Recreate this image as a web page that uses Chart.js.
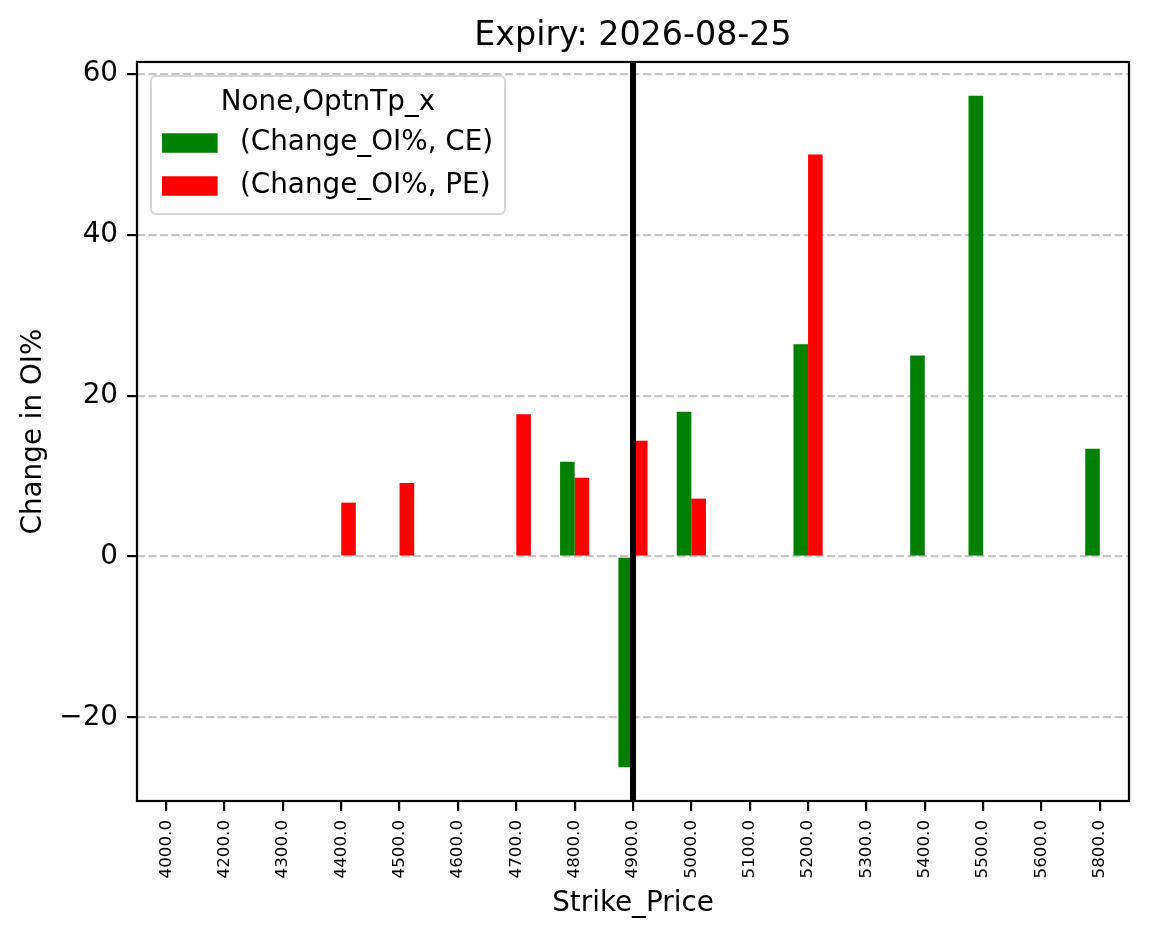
<!DOCTYPE html>
<html>
<head>
<meta charset="utf-8">
<script src="https://cdn.jsdelivr.net/npm/chart.js@4.4.1/dist/chart.umd.min.js"></script>
<style>
  body { margin: 0; background: #fff; }
  #wrap { width: 1149px; height: 939px; }
</style>
</head>
<body>
<div id="wrap"><canvas id="grafico" width="1149" height="939"></canvas></div>
<script>
// Dados
const strikes = ['4000.0', '4200.0', '4300.0', '4400.0', '4500.0', '4600.0', '4700.0', '4800.0', '4900.0',
                 '5000.0', '5100.0', '5200.0', '5300.0', '5400.0', '5500.0', '5600.0', '5800.0'];
const ceChange = [null, null, null, null, null, null, null, 11.8, -26.2, 18.0, null, 26.4, null, 25.0, 57.3, null, 13.4];
const peChange = [null, null, null, 6.7, 9.15, null, 17.7, 9.8, 14.4, 7.2, null, 50.0, null, null, null, null, null];
const yTicks = [-20, 0, 20, 40, 60];
const spotStrike = '4900.0';
const legendTitle = 'None,OptnTp_x';

const FONT = "'DejaVu Sans', sans-serif";

// moldura preta em volta da área do gráfico + linha vertical do strike atual
const framePlugin = {
    id: 'frame',
    afterDraw(chart) {
        const { ctx, chartArea: a, scales } = chart;
        const x = scales.x.getPixelForValue(strikes.indexOf(spotStrike));
        ctx.save();
        ctx.fillStyle = '#000';
        ctx.fillRect(x - 3, a.top, 6, a.bottom - a.top);
        ctx.strokeStyle = '#000';
        ctx.lineWidth = 2.2;
        ctx.strokeRect(a.left, a.top, a.right - a.left, a.bottom - a.top);
        ctx.restore();
    }
};

// legenda no estilo do matplotlib, dentro da área do gráfico
const legendBoxPlugin = {
    id: 'legendBox',
    afterDraw(chart) {
        const { ctx, chartArea: a } = chart;
        const x0 = a.left + 14, y0 = a.top + 14, w = 354, h = 138;
        ctx.save();
        ctx.beginPath();
        ctx.roundRect(x0, y0, w, h, 5);
        ctx.fillStyle = 'rgba(255,255,255,0.8)';
        ctx.fill();
        ctx.lineWidth = 2;
        ctx.strokeStyle = '#d6d6d6';
        ctx.stroke();
        ctx.font = `27.8px ${FONT}`;
        ctx.fillStyle = '#000';
        ctx.textBaseline = 'middle';
        ctx.textAlign = 'center';
        ctx.fillText(legendTitle, x0 + w / 2, y0 + 27);
        ctx.textAlign = 'left';
        chart.data.datasets.forEach((ds, i) => {
            const cy = y0 + 67 + i * 43;
            ctx.fillStyle = ds.backgroundColor;
            ctx.fillRect(x0 + 11, cy - 9.7, 55.6, 19.5);
            ctx.fillStyle = '#000';
            ctx.fillText(ds.label, x0 + 89, cy);
        });
        ctx.restore();
    }
};

const ctx = document.getElementById('grafico').getContext('2d');
new Chart(ctx, {
    type: 'bar',
    data: {
        labels: strikes,
        datasets: [
            { label: '(Change_OI%, CE)', data: ceChange, backgroundColor: '#008000', categoryPercentage: 0.5, barPercentage: 1.0 },
            { label: '(Change_OI%, PE)', data: peChange, backgroundColor: '#ff0000', categoryPercentage: 0.5, barPercentage: 1.0 }
        ]
    },
    options: {
        responsive: false,
        animation: false,
        layout: { padding: { left: 0, right: 20, top: 0, bottom: 0 } },
        scales: {
            x: {
                grid: { display: true, drawOnChartArea: false, offset: false, tickLength: 10, color: '#000', lineWidth: 2.2 },
                border: { display: false },
                ticks: {
                    autoSkip: false, minRotation: 90, maxRotation: 90, padding: 9,
                    color: '#000', font: { family: FONT, size: 16.7 }
                },
                title: { display: true, text: 'Strike_Price', color: '#000', font: { family: FONT, size: 27.8 }, padding: { top: 4, bottom: 19 } },
                afterFit(scale) { scale.height = 138; }
            },
            y: {
                min: -30.4,
                max: 61.5,
                z: 1,
                grid: { color: 'rgba(128,128,128,0.45)', lineWidth: 2.2, tickLength: 10, tickColor: '#000', tickWidth: 2.2 },
                border: { display: false, dash: [8, 3.5] },
                afterBuildTicks(scale) { scale.ticks = yTicks.map(v => ({ value: v })); },
                ticks: {
                    padding: 9, color: '#000', font: { family: FONT, size: 27.8 },
                    callback: function(value) { return value < 0 ? '\u2212' + Math.abs(value) : String(value); }
                },
                title: { display: true, text: 'Change in OI%', color: '#000', font: { family: FONT, size: 27.8 }, padding: { top: 17, bottom: 4 } },
                afterFit(scale) { scale.width = 137; }
            }
        },
        plugins: {
            legend: { display: false },
            tooltip: { enabled: false },
            title: {
                display: true, fullSize: false, text: 'Expiry: 2026-08-25', color: '#000',
                font: { family: FONT, size: 33.3, weight: 'normal' },
                padding: { top: 16, bottom: 6 }
            }
        }
    },
    plugins: [framePlugin, legendBoxPlugin]
});
</script>
</body>
</html>
